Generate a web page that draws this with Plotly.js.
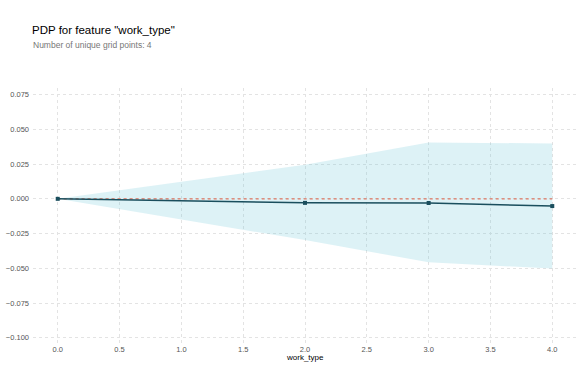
<!DOCTYPE html>
<html>
<head>
<meta charset="utf-8">
<script src="https://cdn.plot.ly/plotly-3.0.1.min.js"></script>
<style>html,body{margin:0;padding:0;background:#fff}#chart{width:581px;height:365px}</style>
</head>
<body>
<div id="chart"></div>
<script>
const gridPoints = [0, 2, 3, 4];
const pdpValues = [0, -0.0029, -0.003, -0.0052];
const upperBound = [0, 0.0246, 0.0405, 0.0399];
const lowerBound = [0, -0.0297, -0.0457, -0.0502];
const baseline = [0, 0, 0, 0];
const xTicks = [0, 0.5, 1, 1.5, 2, 2.5, 3, 3.5, 4];
const yTicks = [-0.1, -0.075, -0.05, -0.025, 0, 0.025, 0.05, 0.075];

const fontFam = '"Liberation Sans", Arial, sans-serif';

const traces = [
  {x: gridPoints, y: upperBound, mode: 'lines', line: {width: 0, color: 'rgba(102,194,215,0)'}, hoverinfo: 'skip', showlegend: false},
  {x: gridPoints, y: lowerBound, mode: 'lines', line: {width: 0, color: 'rgba(102,194,215,0)'}, fill: 'tonexty', fillcolor: 'rgba(102,194,215,0.22)', hoverinfo: 'skip', showlegend: false},
  {x: gridPoints, y: baseline, mode: 'lines', line: {color: 'rgba(231,84,56,0.75)', width: 1.3, dash: 'dot'}, showlegend: false},
  {x: gridPoints, y: pdpValues, mode: 'lines+markers', line: {color: '#1A4E5D', width: 1.5}, marker: {color: '#1A4E5D', size: 4, symbol: 'square'}, showlegend: false}
];

const layout = {
  width: 581, height: 365,
  margin: {l: 33, r: 4, t: 88, b: 22},
  paper_bgcolor: '#fff', plot_bgcolor: '#fff',
  font: {family: fontFam, color: '#444', size: 7.5},
  title: {text: 'PDP for feature "work_type"', font: {family: fontFam, size: 11.5, color: '#000'}, xref: 'container', yref: 'container', x: 32/581, xanchor: 'left', y: 1 - 30/365, yanchor: 'middle'},
  annotations: [
    {text: 'Number of unique grid points: 4', xref: 'paper', yref: 'paper', x: -1/544, y: 1 + (88 - 45) / 255, xanchor: 'left', yanchor: 'middle', showarrow: false, borderpad: 0, font: {family: fontFam, size: 8.5, color: '#777'}},
    {text: 'work_type', xref: 'paper', yref: 'paper', x: (305 - 33) / 544, y: -(357 - 343) / 255, xanchor: 'center', yanchor: 'middle', showarrow: false, borderpad: 0, font: {family: fontFam, size: 8, color: '#000'}}
  ],
  xaxis: {
    range: [-0.2, 4.2], tickvals: xTicks, tickformat: '.1f', showgrid: true, gridcolor: '#e3e3e3', griddash: 'dot', gridwidth: 1,
    zeroline: false, showline: false, ticks: '', ticklabelstandoff: 0,
    tickfont: {size: 7.5, color: '#555'},
    automargin: false
  },
  yaxis: {
    range: [-0.1038, 0.0798], tickvals: yTicks, tickformat: '.3f', showgrid: true, gridcolor: '#e3e3e3', griddash: 'dot', gridwidth: 1,
    zeroline: false, showline: false, ticks: '', ticklabelstandoff: 3,
    tickfont: {size: 7.5, color: '#555'},
    automargin: false
  }
};

Plotly.newPlot('chart', traces, layout, {displayModeBar: false, staticPlot: true});
</script>
</body>
</html>
